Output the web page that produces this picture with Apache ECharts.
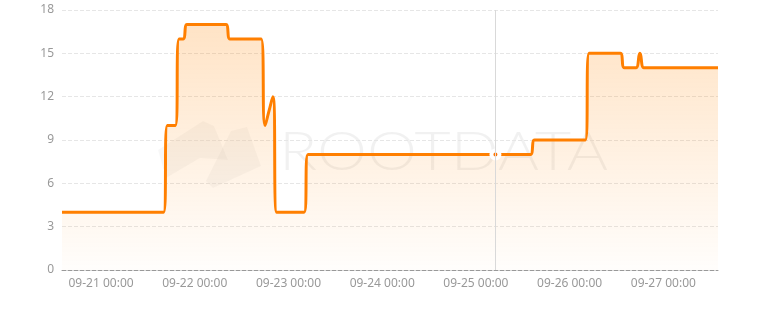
<!DOCTYPE html>
<html>
<head>
<meta charset="utf-8">
<script src="https://cdn.jsdelivr.net/npm/echarts@6/dist/echarts.min.js"></script>
<style>
  html, body { margin: 0; padding: 0; background: #fff; }
  #chart { width: 758px; height: 310px; }
</style>
</head>
<body>
<div id="chart"></div>
<script>
// Hourly readings, starting 09-20 14:00 (one value per hour)
const startTime = [2024, 8, 20, 14]; // year, month index, day, hour
const values = [
  4,4,4,4,4,4,4,4,4,4,4,4,4,4,4,4,4,4,4,4,4,4,4,4,4,4,4,
  10,10,10,
  16,16,
  17,17,17,17,17,17,17,17,17,17,17,
  16,16,16,16,16,16,16,16,16,
  10,11,12,
  4,4,4,4,4,4,4,4,
  8,8,8,8,8,8,8,8,8,8,8,8,8,8,8,8,8,8,8,8,8,8,8,8,8,8,8,8,8,
  8,8,8,8,8,8,8,8,8,8,8,8,8,8,8,8,8,8,8,8,8,8,8,8,8,8,8,8,8,
  9,9,9,9,9,9,9,9,9,9,9,9,9,9,
  15,15,15,15,15,15,15,15,15,
  14,14,14,14,
  15,
  14,14,14,14,14,14,14,14,14,14,14,14,14,14,14,14,14,14,14,14
];
const yTicks = [0, 3, 6, 9, 12, 15, 18];
const hoverIndex = 111;
const watermarkText = 'ROOTDATA';

const HOUR = 3600 * 1000;
const t0 = new Date(startTime[0], startTime[1], startTime[2], startTime[3]).getTime();
const times = values.map((v, i) => t0 + i * HOUR);
const seriesData = values.map((v, i) => [times[i], v]);

const pad = n => (n < 10 ? '0' : '') + n;
const chart = echarts.init(document.getElementById('chart'), null, { renderer: 'canvas' });
const orange = '#ff7400';

chart.setOption({
  animation: false,
  textStyle: { fontFamily: 'Noto Sans, sans-serif' },
  grid: { left: 62, right: 40, top: 10, bottom: 40 },
  graphic: [
    {
      type: 'polygon', z: 0, silent: true,
      shape: { points: [[158,150],[203,121],[214,126],[228,160],[200,158],[166,178]] },
      style: { fill: 'rgba(0,0,0,0.03)' }
    },
    {
      type: 'polygon', z: 0, silent: true,
      shape: { points: [[231,131],[247,127],[261,166],[213,188],[206,181]] },
      style: { fill: 'rgba(0,0,0,0.03)' }
    },
    {
      type: 'text', z: 0, silent: true,
      x: 279, y: 126,
      scaleX: 1.19,
      style: {
        text: watermarkText,
        font: '300 53px Lato, sans-serif',
        fill: 'rgba(0,0,0,0.055)'
      }
    }
  ],
  tooltip: {
    trigger: 'axis',
    showContent: false,
    axisPointer: { type: 'line', lineStyle: { color: '#d9d9d9', width: 1, type: 'solid' } }
  },
  xAxis: {
    type: 'time',
    min: times[0],
    max: times[times.length - 1],
    minInterval: 24 * HOUR,
    maxInterval: 24 * HOUR,
    axisLine: { show: true, lineStyle: { color: '#999', type: 'dashed', width: 1 } },
    axisTick: { show: false },
    splitLine: { show: false },
    axisLabel: {
      color: '#999',
      fontSize: 12,
      showMinLabel: false,
      showMaxLabel: false,
      hideOverlap: true,
      formatter: function (val) {
        const d = new Date(val);
        return pad(d.getMonth() + 1) + '-' + pad(d.getDate()) + ' ' + pad(d.getHours()) + ':' + pad(d.getMinutes());
      }
    }
  },
  yAxis: {
    type: 'value',
    min: yTicks[0],
    max: yTicks[yTicks.length - 1],
    interval: yTicks[1] - yTicks[0],
    axisLine: { show: false },
    axisTick: { show: false },
    axisLabel: { color: '#999', fontSize: 12, margin: 8 },
    splitLine: { lineStyle: { color: '#e6e6e6', type: 'dashed' } }
  },
  series: [{
    type: 'line',
    data: seriesData,
    smooth: true,
    showSymbol: false,
    symbol: 'circle',
    symbolSize: 8,
    z: 3,
    lineStyle: { color: orange, width: 3 },
    itemStyle: { color: orange, borderColor: '#fff', borderWidth: 4 },
    emphasis: { scale: false },
    areaStyle: {
      color: new echarts.graphic.LinearGradient(0, 0, 0, 1, [
        { offset: 0, color: 'rgba(255,120,0,0.32)' },
        { offset: 1, color: 'rgba(255,120,0,0.02)' }
      ])
    }
  }]
});

chart.dispatchAction({ type: 'showTip', seriesIndex: 0, dataIndex: hoverIndex });
</script>
</body>
</html>
